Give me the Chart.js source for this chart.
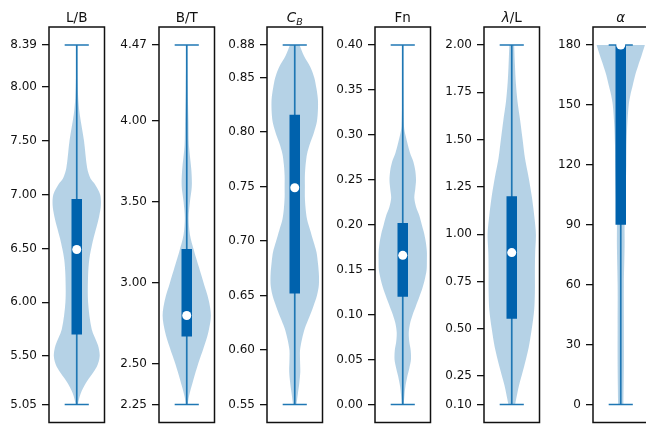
<!DOCTYPE html>
<html>
<head>
<meta charset="utf-8">
<script src="https://cdn.jsdelivr.net/npm/chart.js@4.4.1/dist/chart.umd.min.js"></script>
<style>
  html, body { margin: 0; padding: 0; background: #fff; }
  #wrap { position: relative; width: 646px; height: 427px; overflow: hidden; }
  #wrap canvas { position: absolute; top: 0; }
</style>
</head>
<body>
<div id="wrap"></div>
<script>
// one violin per design variable
var titles = ["L/B", "B/T", "$C_B$", "Fn", "$λ$/L", "$α$"];

var mins    = [5.05, 2.25, 0.55, 0.00, 0.10, 0];
var maxs    = [8.39, 4.47, 0.88, 0.40, 2.00, 180];
var q1s     = [5.70, 2.67, 0.652, 0.120, 0.553, 90];
var medians = [6.49, 2.80, 0.749, 0.166, 0.903, 180];
var q3s     = [6.96, 3.21, 0.816, 0.202, 1.20, 180];

var tickLabels = [
    ["5.05", "5.50", "6.00", "6.50", "7.00", "7.50", "8.00", "8.39"],
    ["2.25", "2.50", "3.00", "3.50", "4.00", "4.47"],
    ["0.55", "0.60", "0.65", "0.70", "0.75", "0.80", "0.85", "0.88"],
    ["0.00", "0.05", "0.10", "0.15", "0.20", "0.25", "0.30", "0.35", "0.40"],
    ["0.10", "0.25", "0.50", "0.75", "1.00", "1.25", "1.50", "1.75", "2.00"],
    ["0", "30", "60", "90", "120", "150", "180"],
];

// kernel density outlines (relative width, 1 = widest)
var lbLevels  = [5.05, 5.15, 5.25, 5.40, 5.50, 5.60, 5.75, 6.00, 6.25, 6.40, 6.50, 6.60, 6.70, 6.80, 6.90, 7.00, 7.10, 7.15, 7.25, 7.50, 7.75, 7.90, 8.10, 8.39];
var lbDensity = [0.04, 0.16, 0.38, 0.83, 0.95, 0.88, 0.62, 0.47, 0.47, 0.52, 0.60, 0.70, 0.82, 0.93, 1.00, 0.97, 0.74, 0.57, 0.43, 0.30, 0.12, 0.06, 0.03, 0.02];

var btLevels  = [2.25, 2.30, 2.40, 2.50, 2.60, 2.70, 2.80, 2.90, 3.00, 3.10, 3.20, 3.30, 3.40, 3.50, 3.60, 3.70, 3.85, 4.00, 4.20, 4.47];
var btDensity = [0.04, 0.09, 0.27, 0.47, 0.70, 0.90, 1.00, 0.90, 0.70, 0.50, 0.30, 0.13, 0.08, 0.13, 0.21, 0.19, 0.09, 0.07, 0.04, 0.02];

var cbLevels  = [0.55, 0.56, 0.57, 0.58, 0.59, 0.60, 0.61, 0.62, 0.63, 0.64, 0.65, 0.66, 0.67, 0.68, 0.69, 0.70, 0.71, 0.72, 0.73, 0.74, 0.75, 0.76, 0.77, 0.78, 0.79, 0.80, 0.81, 0.82, 0.83, 0.84, 0.85, 0.86, 0.87, 0.88];
var cbDensity = [0.07, 0.13, 0.19, 0.23, 0.22, 0.22, 0.30, 0.42, 0.60, 0.77, 0.92, 1.00, 1.00, 0.96, 0.90, 0.77, 0.64, 0.51, 0.45, 0.42, 0.42, 0.42, 0.45, 0.51, 0.64, 0.80, 0.92, 0.96, 0.96, 0.90, 0.81, 0.64, 0.38, 0.20];

var fnLevels  = [0.00, 0.01, 0.02, 0.03, 0.04, 0.05, 0.06, 0.07, 0.08, 0.09, 0.10, 0.11, 0.12, 0.13, 0.14, 0.15, 0.16, 0.17, 0.18, 0.19, 0.20, 0.21, 0.22, 0.23, 0.24, 0.25, 0.26, 0.27, 0.28, 0.30, 0.31, 0.35, 0.40];
var fnDensity = [0.04, 0.07, 0.11, 0.18, 0.27, 0.34, 0.33, 0.27, 0.25, 0.30, 0.41, 0.55, 0.69, 0.82, 0.92, 0.99, 1.00, 1.00, 0.96, 0.89, 0.79, 0.69, 0.55, 0.48, 0.52, 0.55, 0.52, 0.44, 0.30, 0.11, 0.05, 0.02, 0.01];

var lamLevels  = [0.10, 0.20, 0.30, 0.40, 0.50, 0.60, 0.70, 0.80, 0.90, 1.00, 1.10, 1.20, 1.30, 1.40, 1.50, 1.60, 1.70, 1.80, 1.90, 2.00];
var lamDensity = [0.14, 0.30, 0.51, 0.70, 0.83, 0.93, 0.96, 0.96, 0.97, 1.00, 0.93, 0.83, 0.70, 0.55, 0.45, 0.35, 0.24, 0.17, 0.13, 0.10];

var alphaLevels  = [0, 20, 40, 60, 80, 90, 100, 110, 120, 130, 140, 150, 155, 160, 165, 170, 175, 180];
var alphaDensity = [0.11, 0.13, 0.13, 0.13, 0.16, 0.16, 0.19, 0.21, 0.23, 0.24, 0.27, 0.33, 0.40, 0.50, 0.60, 0.73, 0.87, 1.00];

var levels = [lbLevels, btLevels, cbLevels, fnLevels, lamLevels, alphaLevels];
var densities = [lbDensity, btDensity, cbDensity, fnDensity, lamDensity, alphaDensity];

// layout
var panelLeft = [49, 159, 267, 375, 484, 593];
var AXIS_W = 50;
var PANEL_W = 58;

var lineBlue = "#1f77b4";
var boxBlue = "#0062ad";
var violinFill = "rgba(31, 119, 180, 0.33)";
var inkColor = "#111111";
var fontFamily = "'DejaVu Sans', sans-serif";

// title with matplotlib-like $...$ italics and _subscripts
function titleRuns(str) {
    var runs = [];
    str.split("$").forEach(function (part, k) {
        if (!part) return;
        var italic = k % 2 === 1;
        var bits = part.split("_");
        runs.push({ text: bits[0], italic: italic, sub: false });
        if (bits[1]) runs.push({ text: bits[1], italic: italic, sub: true });
    });
    return runs;
}

var panelTitle = {
    id: "panelTitle",
    afterDraw: function (chart, args, opts) {
        var ctx = chart.ctx;
        var area = chart.chartArea;
        var runs = titleRuns(opts.text);
        var fontOf = function (r) {
            return (r.italic ? "italic " : "") + (r.sub ? "9.5px " : "13.5px ") + fontFamily;
        };
        var total = 0;
        runs.forEach(function (r) {
            ctx.font = fontOf(r);
            r.w = ctx.measureText(r.text).width;
            total += r.w;
        });
        var x = (area.left + area.right) / 2 - total / 2;
        var base = area.top - 5;
        ctx.save();
        ctx.fillStyle = inkColor;
        ctx.textBaseline = "alphabetic";
        ctx.textAlign = "left";
        runs.forEach(function (r) {
            ctx.font = fontOf(r);
            ctx.fillText(r.text, x, r.sub ? base + 3 : base);
            x += r.w;
        });
        ctx.restore();
    },
};

var panelFrame = {
    id: "panelFrame",
    afterDraw: function (chart) {
        var ctx = chart.ctx;
        var a = chart.chartArea;
        ctx.save();
        ctx.strokeStyle = inkColor;
        ctx.lineWidth = 1.5;
        ctx.strokeRect(a.left, a.top, a.right - a.left, a.bottom - a.top);
        ctx.restore();
    },
};

function makePanel(i) {
    var canvas = document.createElement("canvas");
    canvas.width = AXIS_W + PANEL_W + 2;
    canvas.height = 427;
    canvas.style.left = panelLeft[i] - AXIS_W + "px";
    document.getElementById("wrap").appendChild(canvas);

    var lo = mins[i];
    var hi = maxs[i];
    var pad = (hi - lo) * 0.05;
    var labels = tickLabels[i];
    var tickVals = labels.map(parseFloat);

    var right = levels[i].map(function (y, k) {
        return { x: densities[i][k], y: y };
    });
    var left = levels[i].map(function (y, k) {
        return { x: -densities[i][k], y: y };
    });

    var datasets = [
        {
            data: [{ x: 0, y: medians[i] }],
            showLine: false,
            pointRadius: 4.5,
            pointBackgroundColor: "#ffffff",
            pointBorderWidth: 0,
            order: 0,
        },
        {
            data: [{ x: 0, y: q1s[i] }, { x: 0, y: q3s[i] }],
            borderColor: boxBlue,
            borderWidth: 10.5,
            borderCapStyle: "butt",
            pointRadius: 0,
            order: 1,
        },
        {
            data: [{ x: 0, y: lo }, { x: 0, y: hi }],
            borderColor: lineBlue,
            borderWidth: 1.7,
            pointRadius: 0,
            order: 2,
        },
        {
            data: [{ x: -0.5, y: lo }, { x: 0.5, y: lo }],
            borderColor: lineBlue,
            borderWidth: 1.7,
            pointRadius: 0,
            order: 2,
        },
        {
            data: [{ x: -0.5, y: hi }, { x: 0.5, y: hi }],
            borderColor: lineBlue,
            borderWidth: 1.7,
            pointRadius: 0,
            order: 2,
        },
        {
            data: right,
            fill: { value: 0 },
            backgroundColor: violinFill,
            borderColor: "transparent",
            borderWidth: 0,
            pointRadius: 0,
            tension: 0.3,
            order: 3,
        },
        {
            data: left,
            fill: { value: 0 },
            backgroundColor: violinFill,
            borderColor: "transparent",
            borderWidth: 0,
            pointRadius: 0,
            tension: 0.3,
            order: 3,
        },
    ];

    return new Chart(canvas.getContext("2d"), {
        type: "line",
        data: { datasets: datasets },
        options: {
            responsive: false,
            animation: false,
            indexAxis: "y",
            layout: { padding: { top: 27, bottom: 2, left: 0, right: 2 } },
            scales: {
                x: { type: "linear", min: -1.15, max: 1.15, display: false },
                y: {
                    type: "linear",
                    bounds: "data",
                    min: lo - pad,
                    max: hi + pad,
                    afterBuildTicks: function (scale) {
                        scale.ticks = tickVals.map(function (v) {
                            return { value: v };
                        });
                    },
                    afterFit: function (scale) {
                        scale.width = AXIS_W;
                        scale.paddingTop = 0;
                        scale.paddingBottom = 0;
                    },
                    ticks: {
                        autoSkip: false,
                        padding: 5,
                        color: inkColor,
                        font: { family: fontFamily, size: 12 },
                        callback: function (value, index) {
                            return labels[index];
                        },
                    },
                    grid: {
                        display: true,
                        drawOnChartArea: false,
                        drawTicks: true,
                        tickLength: 7,
                        color: inkColor,
                        lineWidth: 1.3,
                    },
                    border: { display: false },
                },
            },
            plugins: {
                legend: { display: false },
                tooltip: { enabled: false },
                title: { display: false },
                panelTitle: { text: titles[i] },
            },
        },
        plugins: [panelTitle, panelFrame],
    });
}

for (var i = 0; i < titles.length; i++) {
    makePanel(i);
}
</script>
</body>
</html>
